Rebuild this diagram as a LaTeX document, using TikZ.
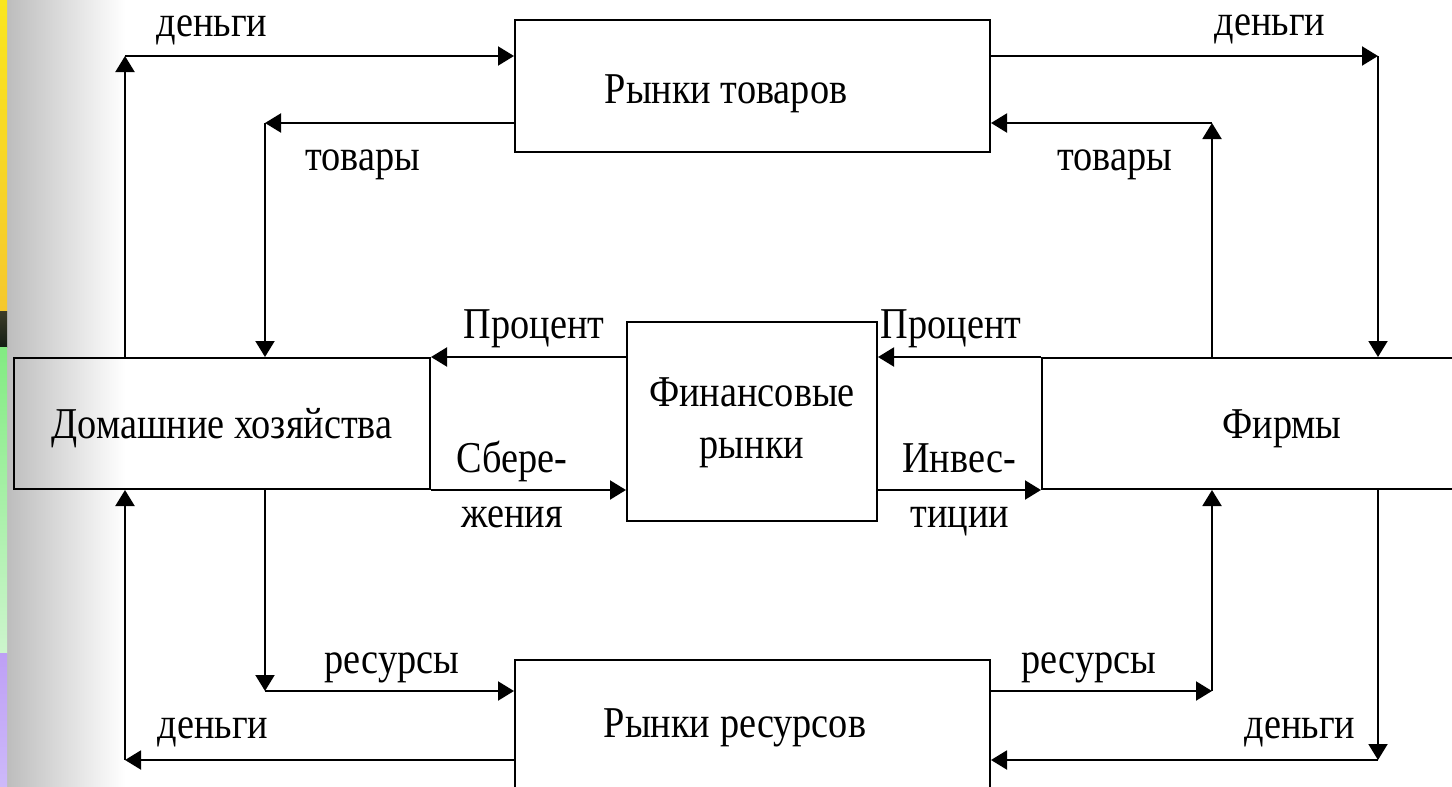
\documentclass[tikz,border=0pt]{standalone}
\usepackage{fontspec}
\setmainfont{Liberation Serif}[FakeStretch=0.87]
\usetikzlibrary{arrows.meta}
\begin{document}
\begin{tikzpicture}[x=1pt,y=-1pt,
  box/.style={draw, line width=2pt, inner sep=0pt, rectangle},
  arr/.style={line width=2pt, -{Triangle[length=16pt,width=19pt]}},
  txt/.style={font=\fontsize{44}{51}\selectfont, inner sep=0pt, anchor=base},
]
\useasboundingbox (0,0) rectangle (1452,787);
\clip (0,0) rectangle (1452,787);
% background
\fill[white] (0,0) rectangle (1452,787);
\shade[left color=black!26, right color=white] (7,0) rectangle (125,787);
\shade[top color={rgb,255:red,250;green,230;blue,30}, bottom color={rgb,255:red,245;green,200;blue,45}] (0,0) rectangle (7,311);
\shade[top color={rgb,255:red,60;green,60;blue,40}, bottom color={rgb,255:red,20;green,30;blue,20}] (0,311) rectangle (7,347);
\shade[top color={rgb,255:red,130;green,235;blue,130}, bottom color={rgb,255:red,205;green,245;blue,205}] (0,347) rectangle (7,653);
\shade[top color={rgb,255:red,190;green,160;blue,245}, bottom color={rgb,255:red,205;green,185;blue,250}] (0,653) rectangle (7,787);

% boxes
\node[box, minimum width=475, minimum height=132] (goods) at (752.5,86) {};
\node[box, minimum width=475, minimum height=136] (res) at (752.5,728) {};
\node[box, minimum width=416, minimum height=131] (hh) at (222,423.5) {};
\node[box, minimum width=480, minimum height=131] (firm) at (1282,423.5) {};
\node[box, minimum width=250, minimum height=199] (fin) at (752,421.5) {};

% box texts
\node[txt] (goodsT) at (726,103) {Рынки товаров};
\node[txt] (resT) at (735,737) {Рынки ресурсов};
\node[txt] (hhT) at (222,438) {Домашние хозяйства};
\node[txt] (firmT) at (1282,438) {Фирмы};
\node[txt] (finT1) at (752,406) {Финансовые};
\node[txt] (finT2) at (752,458) {рынки};

% corners
\coordinate (c1) at (125,56);
\coordinate (c2) at (265,123);
\coordinate (c3) at (1378,56);
\coordinate (c4) at (1212,123);
\coordinate (c5) at (265,691);
\coordinate (c6) at (125,760);
\coordinate (c7) at (1212,691);
\coordinate (c8) at (1378,760);

% connectors
\draw[arr] (hh.north -| c1) -- (c1);
\draw[arr] (c1) -- (c1 -| goods.west);
\draw[arr] (c2 -| goods.west) -- (c2);
\draw[arr] (c2) -- (c2 |- hh.north);
\draw[arr] (c3 -| goods.east) -- (c3);
\draw[arr] (c3) -- (c3 |- firm.north);
\draw[arr] (firm.north -| c4) -- (c4);
\draw[arr] (c4) -- (c4 -| goods.east);
\draw[arr] (hh.south -| c5) -- (c5);
\draw[arr] (c5) -- (c5 -| res.west);
\draw[arr] (c6 -| res.west) -- (c6);
\draw[arr] (c6) -- (c6 |- hh.south);
\draw[arr] (c7 -| res.east) -- (c7);
\draw[arr] (c7) -- (c7 |- firm.south);
\draw[arr] (firm.south -| c8) -- (c8);
\draw[arr] (c8) -- (c8 -| res.east);
\draw[arr] (fin.west |- hh.north) -- (hh.north east);
\draw[arr] (firm.north west) -- (fin.east |- firm.north);
\draw[arr] (hh.south east) -- (fin.west |- hh.south);
\draw[arr] (fin.east |- firm.south) -- (firm.south west);

% labels
\node[txt] (l1) at (212,36) {деньги};
\node[txt] (l2) at (363,170) {товары};
\node[txt] (l3) at (1270,35) {деньги};
\node[txt] (l4) at (1115,170) {товары};
\node[txt] (l5) at (534,338) {Процент};
\node[txt] (l6) at (951,338) {Процент};
\node[txt] (l7) at (512,472) {Сбере-};
\node[txt] (l8) at (512,527) {жения};
\node[txt] (l9) at (959,472) {Инвес-};
\node[txt] (l10) at (960,527) {тиции};
\node[txt] (l11) at (392,673) {ресурсы};
\node[txt] (l12) at (213,738) {деньги};
\node[txt] (l13) at (1089,673) {ресурсы};
\node[txt] (l14) at (1300,738) {деньги};
\end{tikzpicture}
\end{document}
